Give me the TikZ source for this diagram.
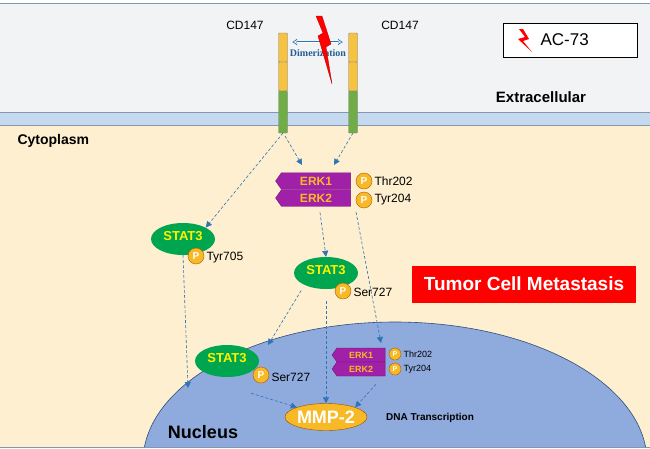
\documentclass[tikz,border=0pt]{standalone}
\usepackage{fontspec}
\setmainfont{Liberation Sans}
\usetikzlibrary{shapes.geometric,shapes.symbols,arrows.meta}
\definecolor{cyto}{HTML}{FDEFCF}
\definecolor{memb}{HTML}{C6D9EE}
\definecolor{extra}{HTML}{F2F3F5}
\definecolor{edge}{HTML}{8497B0}
\definecolor{nuc}{HTML}{8FAADC}
\definecolor{nucedge}{HTML}{2F4E79}
\definecolor{stat}{HTML}{00A550}
\definecolor{erk}{HTML}{A020A8}
\definecolor{pyel}{HTML}{F7B926}
\definecolor{arr}{HTML}{2E75B6}
\definecolor{recg}{HTML}{70AD47}
\definecolor{recy}{HTML}{F5C242}
\newcommand{\fs}[1]{\fontsize{#1}{#1}\selectfont}
\begin{document}
\begin{tikzpicture}[x=1pt,y=-1pt,
  flow/.style={draw=arr,densely dashed,-{Triangle[length=6pt,width=6pt]},line width=0.6pt},
  pp/.style={circle,fill=pyel,draw=orange!70!black,inner sep=0pt,minimum size=16pt,text=white,font=\bfseries\fs{10}},
  ppsmall/.style={pp,minimum size=12pt,font=\bfseries\fs{7}},
  stat/.style={ellipse,fill=stat,minimum width=64pt,minimum height=32pt,inner sep=0pt,text=yellow,font=\bfseries\fs{13},anchor=center},
  erkbox/.style={signal,signal to=west,signal pointer angle=110,fill=erk,draw=erk!70!black,text=pyel,font=\bfseries\fs{12},inner sep=0pt,minimum width=75pt,minimum height=16.5pt},
  erksmall/.style={erkbox,minimum width=53pt,minimum height=14pt,font=\bfseries\fs{9}},
  lab/.style={font=\fs{12}},
  seg/.style={draw=black!50,rounded corners=1pt,line width=0.4pt}]
\useasboundingbox (0,0) rectangle (650,448);
% regions
\fill[extra] (0,3) rectangle (650,112);
\draw[edge] (0,3) -- (650,3);
\fill[memb] (0,112) rectangle (650,125);
\draw[edge] (0,112) -- (650,112);
\fill[cyto] (0,125) rectangle (650,448);
\draw[edge] (0,125) -- (650,125);
\begin{scope}
\clip (0,0) rectangle (650,447);
\draw[nucedge,fill=nuc,line width=0.6pt] (395,462) ellipse [x radius=252,y radius=140];
\end{scope}
\draw[edge] (0,447) -- (650,447);
% labels
\node[font=\bfseries\fs{15}] (ext) at (541,97) {Extracellular};
\node[font=\bfseries\fs{14},anchor=west] (cyt) at (14,141) {Cytoplasm};
\node[font=\bfseries\fs{18}] (nucl) at (203,432) {Nucleus};
\node[font=\bfseries\fs{10}] (dna) at (430,418) {DNA Transcription};
% AC-73 box
\node[draw=black,fill=white,minimum width=134pt,minimum height=34pt,line width=0.6pt] (acbox) at (570,40) {};
\node[font=\fs{17},anchor=west] (ac) at (537,40) {AC-73};
\fill[red] (519,29) -- (525,37) -- (518,39) -- (532,52) -- (523,41) -- (529,39) -- (523,29) -- cycle;
% receptors
\foreach \x/\n in {283/l,353/r}{
  \draw[seg,fill=recy] (\x-4.5,33) rectangle (\x+4.5,62);
  \draw[seg,fill=recy] (\x-4.5,62) rectangle (\x+4.5,91);
  \draw[seg,fill=recg] (\x-4.5,91) rectangle (\x+4.5,133);
  \coordinate (rec\n) at (\x,133);
}
\node[lab] (cd1) at (245,25) {CD147};
\node[lab] (cd2) at (400,25) {CD147};
\coordinate (d1) at (292,42); \coordinate (d2) at (343,42);
\draw[{Latex[open,length=5pt,width=7pt]}-{Latex[open,length=5pt,width=7pt]},draw=arr,line width=1.2pt] (d1) -- (d2);
\draw[white,{Latex[open,length=3.5pt,width=4pt]}-{Latex[open,length=3.5pt,width=4pt]},line width=0.4pt] (293.5,42) -- (341.5,42);
\node[font=\bfseries\fs{10}\fontspec{Liberation Serif},text=arr!80!black] (dim) at (318,53) {Dimerization};
\fill[red,draw=red!70!black,line width=0.3pt] (316,16) -- (323,33) -- (318,36) -- (332,84) -- (326,47) -- (331,44) -- (322,16) -- cycle;
% ERK top
\node[erkbox] (erk1) at (316,181) {ERK1};
\node[erkbox] (erk2) at (316,198) {ERK2};
\node[pp] (p1) at (364,181) {P};
\node[pp] (p2) at (364,200) {P};
\node[lab,anchor=west] (t1) at (371,181) {Thr202};
\node[lab,anchor=west] (t2) at (371,200) {Tyr204};
% STAT3 left
\node[stat] (s1) at (183,239) {\raisebox{6pt}{STAT3}};
\node[pp] (p3) at (196,256) {P};
\node[lab,anchor=west] (t3) at (203,258) {Tyr705};
% STAT3 middle
\node[stat] (s2) at (326,273) {\raisebox{6pt}{STAT3}};
\node[pp] (p4) at (343,291) {P};
\node[lab,anchor=west] (t4) at (350,292) {Ser727};
% Tumor box
\node[fill=red,text=white,font=\bfseries\fs{19},minimum width=224pt,minimum height=37pt] (tumor) at (524,284) {Tumor Cell Metastasis};
% STAT3 nucleus
\node[stat] (s3) at (227,361) {\raisebox{6pt}{STAT3}};
\node[pp] (p5) at (261,375) {P};
\node[lab,anchor=west] (t5) at (268,377) {Ser727};
% ERK nucleus
\node[erksmall] (erk3) at (361,355) {ERK1};
\node[erksmall] (erk4) at (361,369) {ERK2};
\node[ppsmall] (p6) at (395,354) {P};
\node[ppsmall] (p7) at (395,369) {P};
\node[font=\fs{9},anchor=west] (t6) at (400,354) {Thr202};
\node[font=\fs{9},anchor=west] (t7) at (400,369) {Tyr204};
% MMP-2
\node[ellipse,fill=pyel,draw=orange!60!black,minimum width=82pt,minimum height=27pt,text=white,font=\bfseries\fs{18},inner sep=0pt] (mmp) at (326,417) {MMP-2};
% arrows
\draw[flow] (recl) -- (s1.north east);
\draw[flow] (285,136) -- (302,165);
\draw[flow] (recr) -- (334,165);
\draw[flow] (s1.south) -- (188,388);
\draw[flow] (erk2.south) ++(4,6) -- (s2.north);
\draw[flow] (356,212) -- (381,343);
\draw[flow] (s2.south west) ++(-2,6) -- (268,345);
\draw[flow] (s2.south) ++(0,12) -- (mmp.north);
\draw[flow] (p5.south) ++(-10,10) -- (mmp.north west);
\draw[flow] (erk4.south) ++(15,8) -- (mmp.north east);
\end{tikzpicture}
\end{document}
